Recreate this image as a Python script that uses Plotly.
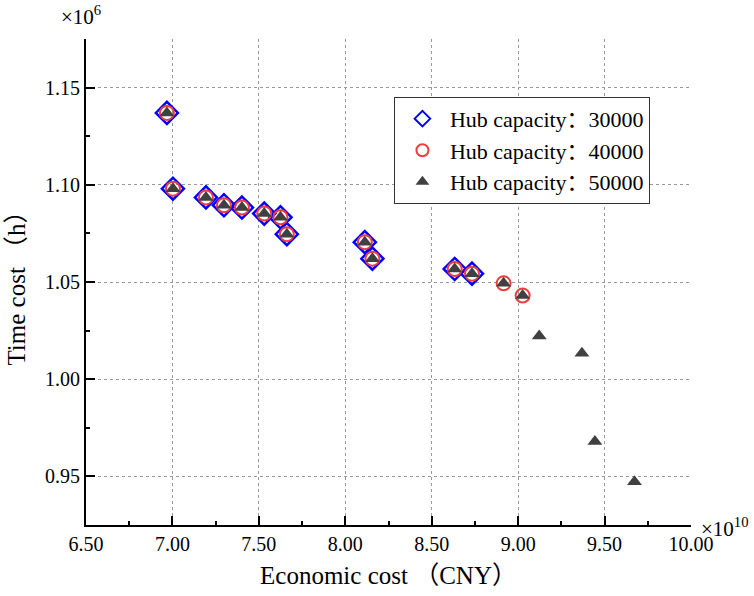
import plotly.graph_objects as go

# Data (x in units of 1e10 CNY, y in units of 1e6 h)
econ_30000 = [6.968, 7.003, 7.194, 7.298, 7.402, 7.531, 7.625, 7.662, 8.113, 8.157, 8.633, 8.733]
time_30000 = [1.137, 1.098, 1.0935, 1.0895, 1.0883, 1.0852, 1.0833, 1.0746, 1.0705, 1.062, 1.0567, 1.0543]

econ_40000 = econ_30000 + [8.916, 9.026]
time_40000 = time_30000 + [1.0493, 1.0430]

econ_50000 = econ_40000 + [9.122, 9.369, 9.444, 9.673]
time_50000 = time_40000 + [1.0222, 1.0134, 0.968, 0.9473]

names = ["Hub capacity：30000", "Hub capacity：40000", "Hub capacity：50000"]

FONT = "Liberation Serif, Times New Roman, Noto Sans CJK SC, serif"

fig = go.Figure()
fig.add_trace(go.Scatter(
    x=econ_30000, y=time_30000, mode="markers", name=names[0],
    marker=dict(symbol="diamond-open", size=17, color="#0000FF", line=dict(width=2.5, color="#0000FF")),
))
fig.add_trace(go.Scatter(
    x=econ_40000, y=time_40000, mode="markers", name=names[1],
    marker=dict(symbol="circle-open", size=14, color="#F03C3C", line=dict(width=2, color="#F03C3C")),
))
fig.add_trace(go.Scatter(
    x=econ_50000, y=time_50000, mode="markers", name=names[2],
    marker=dict(symbol="triangle-up", size=13, color="#404040", line=dict(width=0)),
))

axis_common = dict(
    showline=True, linecolor="black", linewidth=2, mirror=False,
    ticks="inside", ticklen=9, tickwidth=2, tickcolor="black",
    showgrid=True, gridcolor="#9a9a9a", gridwidth=1, griddash="3px,3px",
    zeroline=False, tickformat=".2f", automargin=False,
    tickfont=dict(family=FONT, size=20, color="black"),
)

fig.update_xaxes(
    range=[6.5, 10.0], tick0=6.5, dtick=0.5,
    minor=dict(dtick=0.25, tick0=6.5, ticks="inside", ticklen=4, tickwidth=2, tickcolor="black", showgrid=False),
    title=dict(text="Economic cost （CNY）", font=dict(family=FONT, size=25, color="black"), standoff=12),
    **axis_common,
)
fig.update_yaxes(
    range=[0.92499, 1.17501], tick0=0.95, dtick=0.05,
    minor=dict(dtick=0.025, tick0=0.925, ticks="inside", ticklen=4, tickwidth=2, tickcolor="black", showgrid=False),
    title=dict(text="Time cost （h）", font=dict(family=FONT, size=25, color="black"), standoff=12),
    **axis_common,
)

fig.add_annotation(xref="paper", yref="paper", x=-0.008, y=1.0, yshift=8, xanchor="center", yanchor="bottom",
                   text="×10<sup>6</sup>", showarrow=False, font=dict(family=FONT, size=21, color="black"))
fig.add_annotation(xref="paper", yref="paper", x=1.0, y=0.0, xshift=8, yshift=-2, xanchor="left", yanchor="middle",
                   text="×10<sup>10</sup>", showarrow=False, font=dict(family=FONT, size=21, color="black"))

fig.update_layout(
    width=754, height=596,
    margin=dict(l=86, r=63, t=39, b=71),
    plot_bgcolor="white", paper_bgcolor="white",
    font=dict(family=FONT, color="black"),
    legend=dict(
        x=0.509, y=0.881, xanchor="left", yanchor="top",
        bordercolor="#333333", borderwidth=1, bgcolor="white",
        font=dict(family=FONT, size=22, color="black"),
        itemsizing="constant", tracegroupgap=0, itemwidth=45,
    ),
    showlegend=True,
)

fig.write_html("out.html", config={"displayModeBar": False},
               post_script="document.body.style.margin='0';document.body.style.overflow='hidden';")
